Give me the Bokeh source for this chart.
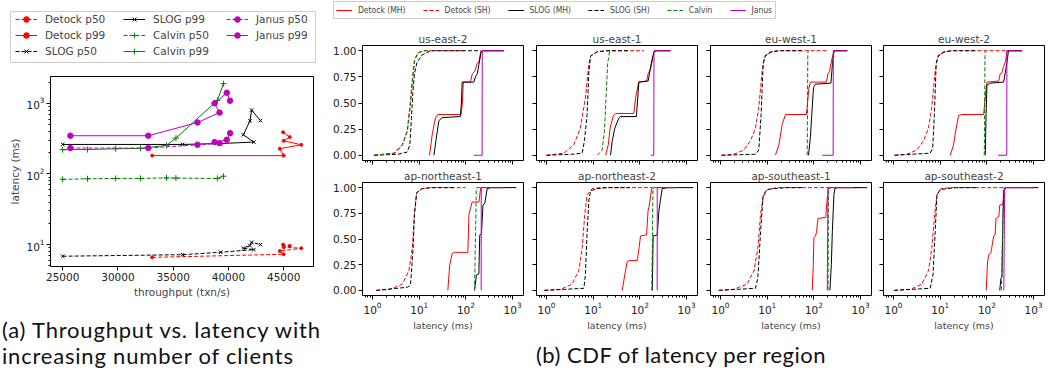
from bokeh.plotting import figure
from bokeh.models import (Range1d, FixedTicker, LogTicker, LogTickFormatter, CustomJSTickFormatter,
                          PrintfTickFormatter, Legend, LegendItem, Div)
from bokeh.layouts import row, column
from bokeh.embed import file_html
from bokeh.resources import INLINE

# ---------------- (a) throughput vs latency ----------------
detock_thr = [33100, 45000, 44650, 46600, 45000, 45550, 44950]
detock_p50 = [6.6, 7.3, 8.1, 8.9, 9.2, 9.6, 10.0]
detock_p99 = [182, 182, 228, 259, 295, 333, 390]
slog_thr = [25000, 35850, 39300, 42300, 41350, 41950, 42100, 42900]
slog_p50 = [6.85, 7.2, 7.8, 8.5, 8.9, 9.7, 10.8, 10.0]
slog_p99 = [262, 262, 270, 283, 359, 565, 805, 570]
calvin_thr = [25000, 27250, 29800, 32050, 34400, 35250, 39000, 39550]
calvin_p50 = [84, 85.5, 86.5, 86.5, 88, 87.5, 86.5, 93]
calvin_p99 = [221, 222, 228, 230, 254, 322, 1100, 1900]
janus_thr = [25700, 32750, 37200, 39200, 38750, 39850, 40150]
janus_p50 = [233, 233, 259, 273, 283, 305, 378]
janus_p99 = [348, 348, 535, 740, 1000, 1410, 1090]
thr_ticks = [25000, 30000, 35000, 40000, 45000]
lat_ticks = [10, 100, 1000]
caption_a = ["(a) Throughput vs. latency with", "increasing number of clients"]

# ---------------- (b) CDF of latency per region ----------------
regions = ["us-east-2", "us-east-1", "eu-west-1", "eu-west-2",
           "ap-northeast-1", "ap-northeast-2", "ap-southeast-1", "ap-southeast-2"]
series_labels = ["Detock (MH)", "Detock (SH)", "SLOG (MH)", "SLOG (SH)", "Calvin", "Janus"]
cdf_ticks = [0, 0.25, 0.5, 0.75, 1.0]
cdf_lat_ticks = [1, 10, 100, 1000]
caption_b = "(b) CDF of latency per region"

# us-east-2
use2_dmh_lat = [16.6, 19, 22.3, 25, 79, 84, 88, 125, 137, 153, 175, 190, 207, 223, 650]
use2_dmh_cdf = [0, 0.2, 0.36, 0.39, 0.39, 0.5, 0.70, 0.70, 0.78, 0.80, 0.88, 0.89, 0.99, 1.0, 1.0]
use2_dsh_lat = [1.07, 2.9, 4.3, 5.5, 6.3, 7.1, 7.9, 9.3, 12.6, 90]
use2_dsh_cdf = [0, 0.02, 0.10, 0.23, 0.46, 0.72, 0.91, 0.98, 1.0, 1.0]
use2_smh_lat = [20.6, 23, 26.3, 31, 76, 80, 83, 148, 160, 175, 190, 212, 242, 650]
use2_smh_cdf = [0, 0.15, 0.33, 0.36, 0.37, 0.5, 0.70, 0.70, 0.75, 0.78, 0.87, 0.99, 1.0, 1.0]
use2_ssh_lat = [1.07, 3.5, 5.5, 6.3, 6.8, 7.3, 7.9, 9.0, 11.6, 17.5, 207]
use2_ssh_cdf = [0, 0.01, 0.03, 0.10, 0.35, 0.6, 0.78, 0.89, 0.96, 1.0, 1.0]
use2_cal_lat = [1.1, 3.0, 4.4, 5.6, 6.4, 7.2, 8.0, 9.5, 13, 17]
use2_cal_cdf = [0, 0.02, 0.10, 0.23, 0.46, 0.72, 0.91, 0.98, 1.0, 1.0]
use2_jan_lat = [148, 222, 224, 650]
use2_jan_cdf = [0, 0, 1.0, 1.0]

# us-east-1
use1_dmh_lat = [18.4, 21, 23, 27, 30, 74, 81, 94, 139, 150, 170, 200, 220, 452]
use1_dmh_cdf = [0, 0.1, 0.26, 0.38, 0.40, 0.40, 0.55, 0.70, 0.71, 0.78, 0.83, 0.99, 1.0, 1.0]
use1_dsh_lat = [1.0, 2.35, 3.85, 5.3, 6.8, 8.1, 8.8, 12.2, 20, 122]
use1_dsh_cdf = [0, 0.02, 0.10, 0.26, 0.55, 0.88, 0.95, 0.99, 1.0, 1.0]
use1_smh_lat = [23.5, 25.6, 29, 35, 38, 84, 95, 150, 160, 175, 200, 220, 452]
use1_smh_cdf = [0, 0.14, 0.26, 0.35, 0.37, 0.37, 0.70, 0.71, 0.78, 0.88, 0.99, 1.0, 1.0]
use1_ssh_lat = [1.0, 3.5, 5.8, 6.5, 7.4, 8.1, 8.8, 12.2, 20, 60]
use1_ssh_cdf = [0, 0.01, 0.02, 0.14, 0.39, 0.81, 0.95, 0.99, 1.0, 1.0]
use1_cal_lat = [12.2, 15.5, 17.4, 18.8, 20.4, 22.5]
use1_cal_cdf = [0, 0.05, 0.23, 0.55, 0.88, 1.0]
use1_jan_lat = [170, 198, 200, 450]
use1_jan_cdf = [0, 0, 1.0, 1.0]

# eu-west-1
euw1_dmh_lat = [15, 17.8, 21, 24.7, 69, 78, 84, 186, 200, 215, 245, 270, 518]
euw1_dmh_cdf = [0, 0.1, 0.3, 0.39, 0.39, 0.64, 0.70, 0.70, 0.78, 0.80, 0.93, 1.0, 1.0]
euw1_dsh_lat = [1.05, 1.93, 3.16, 4.4, 5.6, 6.6, 7.8, 8.8, 11.8, 16.4, 192]
euw1_dsh_cdf = [0, 0.01, 0.05, 0.14, 0.26, 0.46, 0.81, 0.94, 0.99, 1.0, 1.0]
euw1_smh_lat = [76.5, 84, 90, 98, 108, 231, 250, 270, 518]
euw1_smh_cdf = [0, 0.17, 0.39, 0.65, 0.68, 0.69, 0.88, 1.0, 1.0]
euw1_ssh_lat = [1.05, 5.6, 6.6, 7.4, 8.2, 9.2, 12.8, 19.3, 60]
euw1_ssh_cdf = [0, 0.01, 0.05, 0.39, 0.88, 0.96, 0.99, 1.0, 1.0]
euw1_cal_lat = [71, 72, 74, 76]
euw1_cal_cdf = [0, 0.02, 0.98, 1.0]
euw1_jan_lat = [150, 258, 260, 520]
euw1_jan_cdf = [0, 0, 1.0, 1.0]

# eu-west-2
euw2_dmh_lat = [16.4, 19.3, 22, 24.7, 29, 85, 92, 100, 178, 193, 210, 228, 250, 270, 560]
euw2_dmh_cdf = [0, 0.1, 0.26, 0.38, 0.39, 0.39, 0.55, 0.70, 0.71, 0.78, 0.79, 0.85, 0.90, 1.0, 1.0]
euw2_dsh_lat = [1.05, 1.93, 3.16, 4.4, 5.6, 6.6, 7.8, 8.8, 11.8, 16.4, 560]
euw2_dsh_cdf = [0, 0.01, 0.05, 0.14, 0.26, 0.46, 0.81, 0.94, 0.99, 1.0, 1.0]
euw2_smh_lat = [92, 96, 100, 118, 228, 245, 267, 290, 560]
euw2_smh_cdf = [0, 0.39, 0.67, 0.69, 0.70, 0.78, 0.88, 1.0, 1.0]
euw2_ssh_lat = [1.05, 6.1, 6.9, 7.5, 8.2, 9.2, 12.8, 19.3, 60]
euw2_ssh_cdf = [0, 0.02, 0.07, 0.39, 0.88, 0.96, 0.99, 1.0, 1.0]
euw2_cal_lat = [87, 88, 91, 92]
euw2_cal_cdf = [0, 0.02, 0.98, 1.0]
euw2_jan_lat = [172, 266, 268, 560]
euw2_jan_cdf = [0, 0, 1.0, 1.0]

# ap-northeast-1
apne1_dmh_lat = [41, 45, 51, 57, 110, 116, 126, 136, 190, 207, 650]
apne1_dmh_cdf = [0, 0.25, 0.36, 0.37, 0.37, 0.74, 0.80, 0.86, 0.86, 1.0, 1.0]
apne1_dsh_lat = [1.2, 2.4, 4.3, 6.0, 7.1, 7.9, 8.8, 11.6, 17.5, 98]
apne1_dsh_cdf = [0, 0.01, 0.06, 0.19, 0.41, 0.74, 0.95, 0.99, 1.0, 1.0]
apne1_smh_lat = [153, 168, 189, 198, 215, 232, 255, 285, 340, 1190]
apne1_smh_cdf = [0, 0.15, 0.16, 0.54, 0.55, 0.83, 0.85, 0.99, 1.0, 1.0]
apne1_ssh_lat = [1.2, 5.5, 6.5, 7.4, 7.9, 8.8, 11.6, 17.5, 60]
apne1_ssh_cdf = [0, 0.03, 0.05, 0.41, 0.74, 0.95, 0.99, 1.0, 1.0]
apne1_cal_lat = [150, 153, 167, 170, 200]
apne1_cal_cdf = [0, 0.01, 0.99, 1.0, 1.0]
apne1_jan_lat = [212, 213, 650]
apne1_jan_cdf = [0, 1.0, 1.0]

# ap-northeast-2
apne2_dmh_lat = [41.8, 49, 53.6, 61, 87.5, 95, 103, 139, 149, 158, 178, 200, 580]
apne2_dmh_cdf = [0, 0.19, 0.28, 0.29, 0.29, 0.40, 0.53, 0.54, 0.77, 0.82, 0.99, 1.0, 1.0]
apne2_dsh_lat = [0.9, 2.0, 3.5, 4.9, 5.8, 6.6, 7.4, 9.5, 14.3, 184]
apne2_dsh_cdf = [0, 0.01, 0.06, 0.19, 0.41, 0.74, 0.93, 0.99, 1.0, 1.0]
apne2_smh_lat = [184, 192, 235, 255, 265, 300, 390, 1400]
apne2_smh_cdf = [0, 0.53, 0.54, 0.77, 0.83, 0.99, 1.0, 1.0]
apne2_ssh_lat = [0.9, 6.3, 6.8, 7.4, 8.1, 8.8, 12.2, 20, 60]
apne2_ssh_cdf = [0, 0.02, 0.15, 0.57, 0.88, 0.97, 0.99, 1.0, 1.0]
apne2_cal_lat = [178, 180, 190, 192]
apne2_cal_cdf = [0, 0.02, 0.98, 1.0]
apne2_jan_lat = [234, 235, 630]
apne2_jan_cdf = [0, 1.0, 1.0]

# ap-southeast-1
apse1_dmh_lat = [92, 97, 100, 108, 114, 122, 179, 193, 208, 236, 850]
apse1_dmh_cdf = [0, 0.25, 0.51, 0.53, 0.57, 0.70, 0.71, 0.90, 0.99, 1.0, 1.0]
apse1_dsh_lat = [0.92, 1.9, 3.7, 5.2, 6.3, 7.2, 8.2, 10, 16.4, 210]
apse1_dsh_cdf = [0, 0.01, 0.06, 0.19, 0.41, 0.74, 0.91, 0.98, 1.0, 1.0]
apse1_smh_lat = [220, 236, 248, 268, 280, 315, 1390]
apse1_smh_cdf = [0, 0.25, 0.57, 0.93, 0.99, 1.0, 1.0]
apse1_ssh_lat = [0.92, 5.6, 6.3, 7.2, 8.2, 10, 12.8, 26.8, 60]
apse1_ssh_cdf = [0, 0.02, 0.12, 0.57, 0.93, 0.98, 0.99, 1.0, 1.0]
apse1_cal_lat = [200, 201, 205, 206]
apse1_cal_cdf = [0, 0.02, 0.98, 1.0]
apse1_jan_lat = [193, 200, 720]
apse1_jan_cdf = [0, 1.0, 1.0]

# ap-southeast-2
apse2_dmh_lat = [96.7, 103, 110, 121, 140, 150, 156, 180, 188, 220, 240, 260, 1000]
apse2_dmh_cdf = [0, 0.28, 0.35, 0.36, 0.53, 0.54, 0.70, 0.72, 0.83, 0.84, 0.99, 1.0, 1.0]
apse2_dsh_lat = [1.03, 2.3, 4.0, 5.6, 6.6, 7.6, 8.5, 10.3, 16.4, 228]
apse2_dsh_cdf = [0, 0.01, 0.06, 0.19, 0.41, 0.74, 0.93, 0.99, 1.0, 1.0]
apse2_smh_lat = [188, 200, 210, 220, 230, 260, 1270]
apse2_smh_cdf = [0, 0.12, 0.13, 0.70, 0.98, 1.0, 1.0]
apse2_ssh_lat = [1.03, 6.1, 7.0, 7.8, 8.5, 10, 13.9, 22.7, 60]
apse2_ssh_cdf = [0, 0.02, 0.15, 0.57, 0.93, 0.98, 0.99, 1.0, 1.0]
apse2_cal_lat = [203, 205, 226, 228]
apse2_cal_cdf = [0, 0.02, 0.98, 1.0]
apse2_jan_lat = [230, 240, 1000]
apse2_jan_cdf = [0, 1.0, 1.0]

cdf_data = {
    "us-east-2": [(use2_dmh_lat, use2_dmh_cdf), (use2_dsh_lat, use2_dsh_cdf), (use2_smh_lat, use2_smh_cdf),
                  (use2_ssh_lat, use2_ssh_cdf), (use2_cal_lat, use2_cal_cdf), (use2_jan_lat, use2_jan_cdf)],
    "us-east-1": [(use1_dmh_lat, use1_dmh_cdf), (use1_dsh_lat, use1_dsh_cdf), (use1_smh_lat, use1_smh_cdf),
                  (use1_ssh_lat, use1_ssh_cdf), (use1_cal_lat, use1_cal_cdf), (use1_jan_lat, use1_jan_cdf)],
    "eu-west-1": [(euw1_dmh_lat, euw1_dmh_cdf), (euw1_dsh_lat, euw1_dsh_cdf), (euw1_smh_lat, euw1_smh_cdf),
                  (euw1_ssh_lat, euw1_ssh_cdf), (euw1_cal_lat, euw1_cal_cdf), (euw1_jan_lat, euw1_jan_cdf)],
    "eu-west-2": [(euw2_dmh_lat, euw2_dmh_cdf), (euw2_dsh_lat, euw2_dsh_cdf), (euw2_smh_lat, euw2_smh_cdf),
                  (euw2_ssh_lat, euw2_ssh_cdf), (euw2_cal_lat, euw2_cal_cdf), (euw2_jan_lat, euw2_jan_cdf)],
    "ap-northeast-1": [(apne1_dmh_lat, apne1_dmh_cdf), (apne1_dsh_lat, apne1_dsh_cdf), (apne1_smh_lat, apne1_smh_cdf),
                       (apne1_ssh_lat, apne1_ssh_cdf), (apne1_cal_lat, apne1_cal_cdf), (apne1_jan_lat, apne1_jan_cdf)],
    "ap-northeast-2": [(apne2_dmh_lat, apne2_dmh_cdf), (apne2_dsh_lat, apne2_dsh_cdf), (apne2_smh_lat, apne2_smh_cdf),
                       (apne2_ssh_lat, apne2_ssh_cdf), (apne2_cal_lat, apne2_cal_cdf), (apne2_jan_lat, apne2_jan_cdf)],
    "ap-southeast-1": [(apse1_dmh_lat, apse1_dmh_cdf), (apse1_dsh_lat, apse1_dsh_cdf), (apse1_smh_lat, apse1_smh_cdf),
                       (apse1_ssh_lat, apse1_ssh_cdf), (apse1_cal_lat, apse1_cal_cdf), (apse1_jan_lat, apse1_jan_cdf)],
    "ap-southeast-2": [(apse2_dmh_lat, apse2_dmh_cdf), (apse2_dsh_lat, apse2_dsh_cdf), (apse2_smh_lat, apse2_smh_cdf),
                       (apse2_ssh_lat, apse2_ssh_cdf), (apse2_cal_lat, apse2_cal_cdf), (apse2_jan_lat, apse2_jan_cdf)],
}

# ---------------- styles ----------------
RED, BLACK, GREEN, MAGENTA = "#ff0000", "#000000", "#008000", "#bf00bf"
DASH = "4 2"
FONT = "DejaVu Sans"
TS = "10.5px"
cdf_styles = [(RED, "solid"), (RED, DASH), (BLACK, "solid"), (BLACK, DASH), (GREEN, DASH), (MAGENTA, "solid")]
a_styles = [(RED, DASH, "circle", 3), (RED, "solid", "circle", 3),
            (BLACK, DASH, "x", 5), (BLACK, "solid", "x", 5),
            (GREEN, DASH, "cross", 6), (GREEN, "solid", "cross", 6),
            (MAGENTA, DASH, "circle", 5.5), (MAGENTA, "solid", "circle", 5.5)]
a_labels = ["Detock p50", "Detock p99", "SLOG p50", "SLOG p99",
            "Calvin p50", "Calvin p99", "Janus p50", "Janus p99"]
a_data = [(detock_thr, detock_p50), (detock_thr, detock_p99),
          (slog_thr, slog_p50), (slog_thr, slog_p99),
          (calvin_thr, calvin_p50), (calvin_thr, calvin_p99),
          (janus_thr, janus_p50), (janus_thr, janus_p99)]
HIDE = CustomJSTickFormatter(code="return ''")


def style_axes(p):
    p.outline_line_color = "black"
    p.outline_line_alpha = 1.0
    p.axis.axis_line_color = None
    p.axis.major_tick_in = 0
    p.axis.major_tick_out = 4
    p.axis.minor_tick_in = 0
    p.axis.minor_tick_out = 2
    p.axis.major_tick_line_color = "black"
    p.axis.minor_tick_line_color = "black"
    p.axis.major_label_text_font = FONT
    p.axis.major_label_text_font_size = TS
    p.axis.major_label_text_color = "#222222"
    p.axis.axis_label_text_font = FONT
    p.axis.axis_label_text_font_size = TS
    p.axis.axis_label_text_font_style = "normal"
    p.xgrid.visible = False
    p.ygrid.visible = False


def bare_figure(w, h, xr, yr, bl=0, br=0, bt=0, bb=0, outline=None):
    f = figure(width=w, height=h, x_range=xr, y_range=yr,
               output_backend="svg", toolbar_location=None, min_border=0,
               min_border_left=bl, min_border_right=br, min_border_top=bt, min_border_bottom=bb,
               x_axis_location=None, y_axis_location=None, outline_line_color=outline)
    f.grid.visible = False
    return f


def leg_kw(**kw):
    base = dict(glyph_height=14, label_height=14, label_standoff=8, spacing=2, padding=0, margin=0,
                label_text_font=FONT, label_text_font_size=TS,
                border_line_color=None, background_fill_alpha=0.0)
    base.update(kw)
    return base


# Page layout (pixels from the top-left): left column 330 wide, right column 722 wide.
# Every legend figure is wrapped in its own row so its frame is not aligned with other plots.
# ---------------- (a) legend: the frame outline is the legend box (proxies lie outside ranges) ---
legA = bare_figure(330, 68, Range1d(0, 1), Range1d(0, 1), bl=10, br=15, bt=11, bb=6, outline="#cccccc")
a_items = []
for lab, (xs, ys), (col, dash, mk, sz) in zip(a_labels, a_data, a_styles):
    l1 = legA.line(xs, ys, line_color=col, line_dash=dash, line_width=1)
    m1 = legA.scatter(xs, ys, marker=mk, size=sz, line_color=col, fill_color=col, line_width=1)
    a_items.append(LegendItem(label=lab, renderers=[l1, m1]))
for items, loc in ((a_items[0:3], (5, 4)), (a_items[3:6], (113, 4)), (a_items[6:8], (216, 20))):
    legA.add_layout(Legend(items=items, location=loc, orientation="vertical",
                           **leg_kw(glyph_width=22, label_width=20)), "center")

# ---------------- (a) plot ----------------
pa = figure(width=330, height=232, y_axis_type="log",
            x_range=Range1d(23900, 47700), y_range=Range1d(4.9, 2400),
            output_backend="svg", toolbar_location=None,
            min_border_left=50, min_border_right=17, min_border_top=8, min_border_bottom=32)
for (xs, ys), (col, dash, mk, sz) in zip(a_data, a_styles):
    pa.line(xs, ys, line_color=col, line_dash=dash, line_width=1)
    pa.scatter(xs, ys, marker=mk, size=sz, line_color=col, fill_color=col, line_width=1)
style_axes(pa)
pa.xaxis.ticker = FixedTicker(ticks=thr_ticks)
pa.xaxis.minor_tick_line_color = None
ymin = [m * 10 ** k for k in range(0, 4) for m in range(2, 10) if 4.9 <= m * 10 ** k <= 2400]
pa.yaxis.ticker = FixedTicker(ticks=lat_ticks, minor_ticks=ymin)
pa.yaxis.formatter = LogTickFormatter(ticker=LogTicker())
pa.xaxis.axis_label = "throughput (txn/s)"
pa.yaxis.axis_label = "latency (ms)"
pa.axis.major_label_standoff = 2
pa.axis.axis_label_standoff = 2

# ---------------- (a) caption ----------------
CAP = "font-family:Lato;font-size:22px;line-height:26px;color:#111;white-space:nowrap;"
capA = Div(text='<div style="' + CAP + 'letter-spacing:0.8px;padding-top:17px;padding-left:2px">'
                + caption_a[0] + '<br>' + caption_a[1] + '</div>', width=330, height=76, margin=0)

# ---------------- (b) legend: the frame outline is the legend box ----------------
legB = bare_figure(722, 28, Range1d(0, 1), Range1d(5, 6), bl=3, br=277, bt=1, bb=10, outline="#cccccc")
b_items = []
for lab, (xs, ys), (col, dash) in zip(series_labels, cdf_data["us-east-2"], cdf_styles):
    r = legB.line(xs, ys, line_color=col, line_dash=dash, line_width=1)
    b_items.append(LegendItem(label=lab, renderers=[r]))
legB.add_layout(Legend(items=b_items, orientation="horizontal", location="center",
                       **leg_kw(glyph_width=16, glyph_height=12, label_height=12, label_width=10,
                                label_standoff=6, spacing=17,
                                label_text_font="DejaVu Sans Condensed", label_text_font_size="8.5px")),
                "center")

# ---------------- (b) panels ----------------
XMIN, XMAX = 0.61, 1710
xminor = [m * 10 ** k for k in range(-1, 4) for m in range(2, 10) if XMIN <= m * 10 ** k <= XMAX]
BL = [32, 6, 6, 5]
BR = [7, 7, 7, 8]
FW = 161


def make_panel(name, ri, ci):
    if ri == 0:
        h, bt, bb = 138, 17, 6
    else:
        h, bt, bb = 167, 15, 36
    p = figure(width=BL[ci] + FW + BR[ci], height=h, x_axis_type="log",
               x_range=Range1d(XMIN, XMAX), y_range=Range1d(-0.05, 1.05),
               output_backend="svg", toolbar_location=None,
               min_border_left=BL[ci], min_border_right=BR[ci],
               min_border_top=bt, min_border_bottom=bb, title=name)
    for (xs, ys), (col, dash) in zip(cdf_data[name], cdf_styles):
        p.line(xs, ys, line_color=col, line_dash=dash, line_width=1)
    style_axes(p)
    p.title.align = "center"
    p.title.text_font = FONT
    p.title.text_font_size = TS
    p.title.text_font_style = "normal"
    p.title.standoff = 2
    p.xaxis.ticker = FixedTicker(ticks=cdf_lat_ticks, minor_ticks=xminor)
    p.yaxis.ticker = FixedTicker(ticks=cdf_ticks)
    p.yaxis.minor_tick_line_color = None
    p.axis.major_label_standoff = 2
    if ri == 0:
        p.xaxis.formatter = HIDE
        p.xaxis.major_label_text_font_size = "1px"
        p.xaxis.major_label_standoff = 0
    else:
        p.xaxis.formatter = LogTickFormatter(ticker=LogTicker())
        p.xaxis.axis_label = "latency (ms)"
        p.xaxis.axis_label_standoff = 3
        p.xaxis.axis_label_text_font_size = "9.5px"
    if ci > 0:
        p.yaxis.formatter = HIDE
        p.yaxis.major_label_text_font_size = "1px"
        p.yaxis.major_label_standoff = 0
    else:
        p.yaxis.formatter = PrintfTickFormatter(format="%.2f")
    return p


rows = []
for ri in range(2):
    rows.append(row([make_panel(regions[ri * 4 + ci], ri, ci) for ci in range(4)], spacing=0))

# ---------------- (b) caption ----------------
capB = Div(text='<div style="' + CAP + 'letter-spacing:0.5px;width:702px;padding-top:9px;text-align:center">'
                + caption_b + '</div>', width=722, height=43, margin=0)

left = column([row([legA], spacing=0), pa, capA], spacing=0)
right = column([row([legB], spacing=0), rows[0], rows[1], capB], spacing=0)
layout = row([left, right], spacing=0)

open("out.html", "w").write(file_html(layout, INLINE))
